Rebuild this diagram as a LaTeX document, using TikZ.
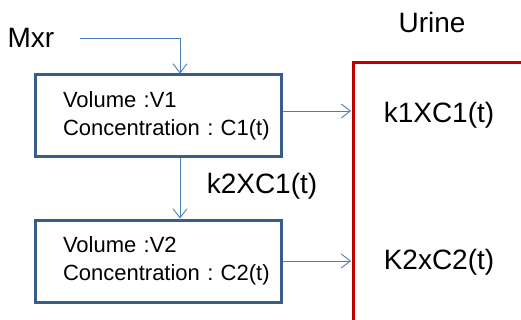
\documentclass[tikz,border=0pt]{standalone}
\usepackage{fontspec}
\setmainfont{Liberation Sans}
\usetikzlibrary{arrows.meta, positioning, calc}
\definecolor{cBox}{RGB}{56,93,138}
\definecolor{cFlow}{RGB}{74,126,187}
\definecolor{cUrine}{RGB}{192,0,0}
\tikzset{
	comp/.style ={rectangle, draw=cBox, line width=3pt, minimum width=246pt, minimum height=82pt, text width=190pt, inner xsep=28pt, align=left, font=\fontsize{22}{28}\selectfont},
	lbl/.style  ={font=\fontsize{28}{30}\selectfont, inner sep=0pt},
	flow/.style ={-{Straight Barb[length=9pt, width=14pt]}, draw=cFlow, line width=0.9pt},
	% open urine compartment
	wall/.style ={draw=cUrine, line width=3pt},
}
\begin{document}
\begin{tikzpicture}[x=1pt, y=-1pt]
	\useasboundingbox (0,0) rectangle (521,320);
	\node[lbl] (mxr) at (31,38) {Mxr};
	\node[comp] (c1) at (158,116) {Volume~:V1\\Concentration~:~C1(t)};
	\node[comp] (c2) at (158,261) {Volume~:V2\\Concentration~:~C2(t)};
	\node[lbl] (k2) at (262,186) {k2XC1(t)};
	\node[lbl] (urine) at (432,22) {Urine};
	\node[lbl] (k1out) at (439,115) {k1XC1(t)};
	\node[lbl] (k2out) at (439,262) {K2xC2(t)};
	\coordinate (wall) at (353,63);
	\draw[wall] (353,322) -- (wall) -- (523,63);
	\draw[flow, shorten <=25pt] (mxr.east) -| ([xshift=22pt]c1.north);
	\draw[flow] ([xshift=22pt]c1.south) -- ([xshift=22pt]c2.north);
	\draw[flow, shorten >=2pt] ([yshift=5pt]c1.east) -- ([yshift=5pt]c1.east -| wall);
	\draw[flow, shorten >=2pt] (c2.east) -- (c2.east -| wall);
\end{tikzpicture}
\end{document}
